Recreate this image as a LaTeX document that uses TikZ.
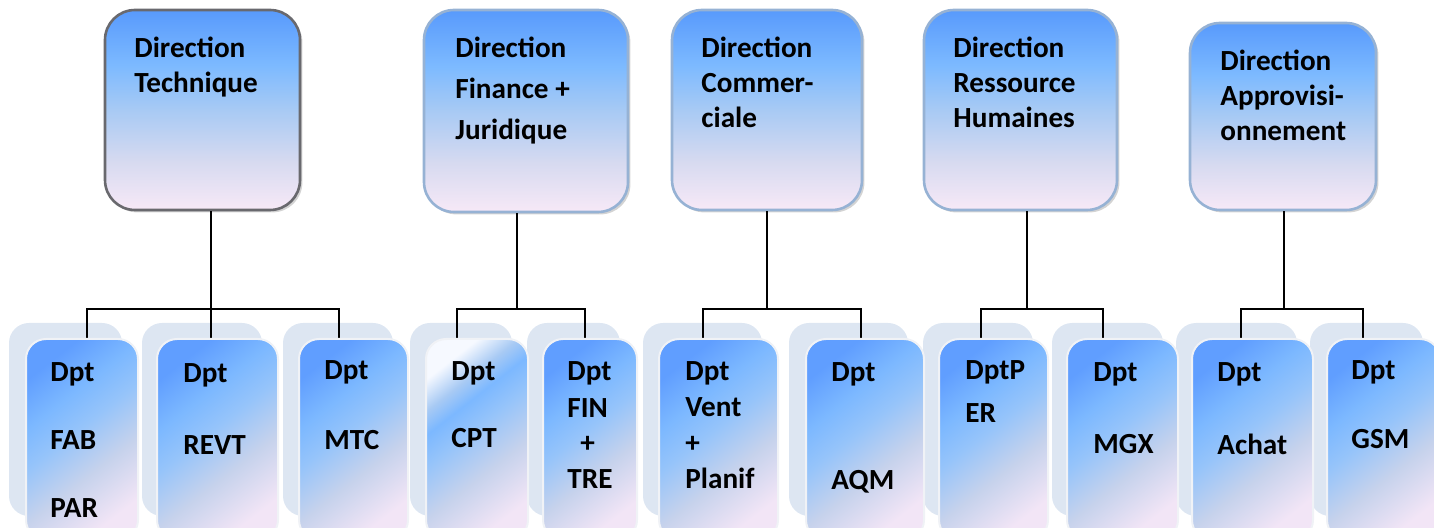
\documentclass[tikz,border=0pt]{standalone}
\usepackage{fontspec}
\setmainfont{Carlito}
\usetikzlibrary{shadows}

% colours
\definecolor{htop}{RGB}{88,154,252}
\definecolor{hlight}{RGB}{125,186,255}
\definecolor{hmid}{RGB}{168,202,244}
\definecolor{hlav}{RGB}{215,218,240}
\definecolor{hpink}{RGB}{247,233,247}
\definecolor{ctop}{RGB}{96,158,255}
\definecolor{clight}{RGB}{124,184,255}
\definecolor{cmid}{RGB}{150,196,250}
\definecolor{clav}{RGB}{198,210,236}
\definecolor{cpink}{RGB}{242,229,246}
\definecolor{cwhite}{RGB}{246,249,255}
\definecolor{backfill}{RGB}{221,230,242}
\definecolor{headline}{RGB}{150,178,212}
\definecolor{techline}{RGB}{105,105,110}
\definecolor{cardline}{RGB}{240,242,246}

% vertical shading of the direction boxes
\pgfdeclareverticalshading{headshade}{100bp}{color(0bp)=(hpink); color(25bp)=(hpink); color(37bp)=(hlav); color(50bp)=(hmid); color(61bp)=(hlight); color(75bp)=(htop); color(100bp)=(htop)}
% diagonal shading of the department cards
\pgfdeclareverticalshading{cardshade}{100bp}{color(0bp)=(cpink); color(25bp)=(cpink); color(40bp)=(clav); color(53bp)=(cmid); color(63bp)=(clight); color(75bp)=(ctop); color(100bp)=(ctop)}
\pgfdeclareverticalshading{cardshadelight}{100bp}{color(0bp)=(cpink); color(25bp)=(cpink); color(40bp)=(clav); color(53bp)=(cmid); color(61bp)=(clight); color(67bp)=(hmid); color(75bp)=(cwhite); color(100bp)=(cwhite)}

% a rectangular node given by its left, right, top and bottom edges
\newcommand\placebox[6]{%
  \node[#1, minimum width={(#4-#3)*0.5pt}, minimum height={(#6-#5)*0.5pt}]
    (#2) at ({(#3+#4)/2},{(#5+#6)/2}) {};}
% lines of text, one node per line, on baselines #4 apart
\newcommand\txtlines[5]{%
  \foreach \s [count=\k] in {#5}{\node[lbl] (#1-\k) at (#2,{#3+(\k-1)*#4}) {\s};}}

\begin{document}
\begin{tikzpicture}[x=0.5pt,y=-0.5pt,
  head/.style={rectangle, inner sep=0pt, rounded corners=15pt, shading=headshade,
    draw=headline, line width=1.3pt,
    drop shadow={opacity=0.35, shadow xshift=1.2pt, shadow yshift=-1.2pt}},
  techhead/.style={head, draw=techline},
  backcard/.style={rectangle, inner sep=0pt, rounded corners=10pt, fill=backfill},
  frontcard/.style={rectangle, inner sep=0pt, rounded corners=10pt, shading=cardshade,
    shading angle=38, draw=cardline, line width=1pt},
  lightcard/.style={frontcard, shading=cardshadelight, shading angle=38},
  lbl/.style={anchor=base west, inner sep=0pt, font=\bfseries\fontsize{14.6}{17}\selectfont},
  link/.style={draw=black, line width=1pt}]

\useasboundingbox (0,0) rectangle (1434,528);
\clip (0,0) rectangle (1434,528);

% direction boxes
\placebox{techhead}{dt}{105}{300}{10}{210}
\placebox{head}{df}{424}{628}{10}{212}
\placebox{head}{dc}{672}{862}{10}{210}
\placebox{head}{drh}{924}{1117}{10}{210}
\placebox{head}{da}{1190}{1376}{23}{210}

% back sheets of the department cards
\placebox{backcard}{fab-b}{9}{122}{323}{516}
\placebox{backcard}{revt-b}{142}{262}{323}{516}
\placebox{backcard}{mtc-b}{283}{393}{323}{516}
\placebox{backcard}{cpt-b}{410}{512}{323}{516}
\placebox{backcard}{fin-b}{527}{620}{323}{516}
\placebox{backcard}{vent-b}{643}{762}{323}{516}
\placebox{backcard}{aqm-b}{789}{908}{323}{516}
\placebox{backcard}{per-b}{923}{1033}{323}{516}
\placebox{backcard}{mgx-b}{1052}{1163}{323}{516}
\placebox{backcard}{achat-b}{1176}{1297}{323}{516}
\placebox{backcard}{gsm-b}{1310}{1423}{323}{516}

% connector end points on the cards
\coordinate (fab-in) at (87,339);
\coordinate (revt-in) at (211,339);
\coordinate (mtc-in) at (339,339);
\coordinate (cpt-in) at (457,339);
\coordinate (fin-in) at (585,339);
\coordinate (vent-in) at (703,339);
\coordinate (aqm-in) at (861,339);
\coordinate (per-in) at (981,339);
\coordinate (mgx-in) at (1103,339);
\coordinate (achat-in) at (1241,339);
\coordinate (gsm-in) at (1363,339);
% branching points
\coordinate (bus-t) at (211,309);
\coordinate (bus-f) at (517,309);
\coordinate (bus-c) at (767,309);
\coordinate (bus-r) at (1027,309);
\coordinate (bus-a) at (1284,309);

% connectors
\draw[link] (dt.south -| bus-t) -- (bus-t) -- (revt-in);
\draw[link] (fab-in) |- (bus-t) -| (mtc-in);
\draw[link] (df.south -| bus-f) -- (bus-f);
\draw[link] (cpt-in) |- (bus-f) -| (fin-in);
\draw[link] (dc.south -| bus-c) -- (bus-c);
\draw[link] (vent-in) |- (bus-c) -| (aqm-in);
\draw[link] (drh.south -| bus-r) -- (bus-r);
\draw[link] (per-in) |- (bus-r) -| (mgx-in);
\draw[link] (da.south -| bus-a) -- (bus-a);
\draw[link] (achat-in) |- (bus-a) -| (gsm-in);

% front sheets of the department cards
\placebox{frontcard}{fab}{26}{138}{339}{540}
\placebox{frontcard}{revt}{157}{278}{339}{540}
\placebox{frontcard}{mtc}{299}{408}{339}{540}
\placebox{lightcard}{cpt}{426}{528}{339}{540}
\placebox{frontcard}{fin}{543}{637}{339}{540}
\placebox{frontcard}{vent}{659}{778}{339}{540}
\placebox{frontcard}{aqm}{806}{924}{339}{540}
\placebox{frontcard}{per}{939}{1048}{339}{540}
\placebox{frontcard}{mgx}{1067}{1178}{339}{540}
\placebox{frontcard}{achat}{1192}{1313}{339}{540}
\placebox{frontcard}{gsm}{1327}{1440}{339}{540}

% direction labels
\txtlines{dt-t}{134}{58}{35}{Direction,Technique}
\txtlines{df-t}{455}{58}{41}{Direction,Finance +,Juridique}
\txtlines{dc-t}{701}{58}{35}{Direction,Commer-,ciale}
\txtlines{drh-t}{953}{58}{35}{Direction,Ressource,Humaines}
\txtlines{da-t}{1220}{71}{35}{Direction,Approvisi-,onnement}

% department labels
\txtlines{fab-t}{50}{382}{67.5}{Dpt,FAB,PAR}
\txtlines{revt-t}{183}{383}{72}{Dpt,REVT}
\txtlines{mtc-t}{324}{380}{70}{Dpt,MTC}
\txtlines{cpt-t}{451}{381}{67}{Dpt,CPT}
\txtlines{fin-t}{567}{381}{37}{Dpt,FIN}
\node[lbl] (fin-p) at (580,453) {+};
\node[lbl] (fin-tre) at (567,488) {TRE};
\txtlines{vent-t}{685}{381}{35.7}{Dpt,Vent,+,Planif}
\txtlines{aqm-t}{831}{382}{108}{Dpt,AQM}
\txtlines{per-t}{965}{380}{43}{DptP,ER}
\txtlines{mgx-t}{1093}{382}{72}{Dpt,MGX}
\txtlines{achat-t}{1217}{382}{73}{Dpt,Achat}
\txtlines{gsm-t}{1351}{380}{69}{Dpt,GSM}
\end{tikzpicture}
\end{document}
